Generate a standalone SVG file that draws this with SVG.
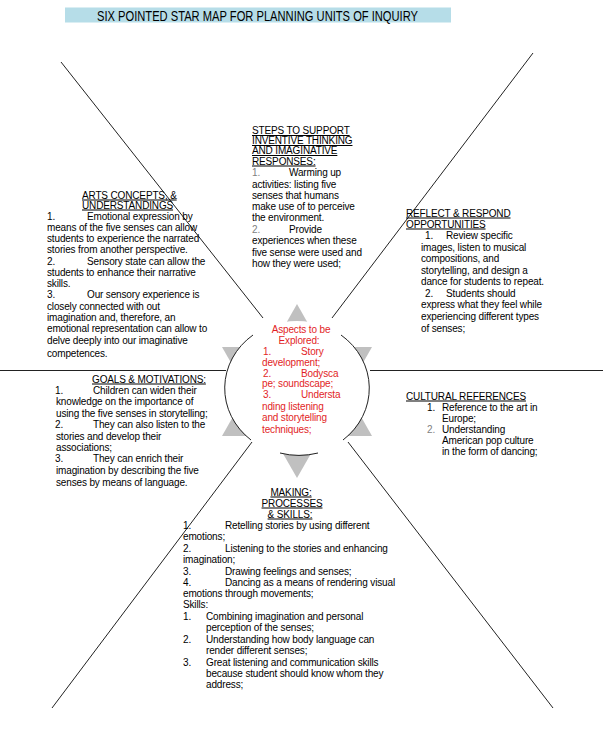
<svg xmlns="http://www.w3.org/2000/svg" width="603" height="729" viewBox="0 0 603 729">
<style>
text{font-family:"Liberation Sans",Arial,sans-serif;font-size:10px;fill:#000;letter-spacing:-0.15px}
.h{text-decoration:underline}
.g{fill:#7f7f7f}
.r{fill:#e21e26}
.ln{stroke:#222;stroke-width:1;fill:none}
.t{fill:#000;font-size:14px;letter-spacing:0}
</style>
<rect width="603" height="729" fill="#fff"/>
<g id="title">
<rect x="65" y="7.5" width="386" height="15" fill="#b6dde8"/>
<text class="t" x="97" y="20.5" textLength="321" lengthAdjust="spacingAndGlyphs">SIX POINTED STAR MAP FOR PLANNING UNITS OF INQUIRY</text>
</g>
<g id="connectors">
<line class="ln" x1="61" y1="62" x2="263" y2="318"/>
<line class="ln" x1="533" y1="53" x2="332" y2="318"/>
<line class="ln" x1="252" y1="442" x2="52" y2="708"/>
<line class="ln" x1="348" y1="442" x2="553" y2="708"/>
<line class="ln" x1="0" y1="370.5" x2="226" y2="370.5"/>
<line class="ln" x1="370" y1="370.5" x2="603" y2="370.5"/>
</g>
<g id="center">
<polygon points="297,304 222,436 372,436" fill="#c0c0c0"/>
<polygon points="297,478 222,347 372,347" fill="#c0c0c0"/>
<ellipse cx="297" cy="388" rx="72" ry="67" fill="#fff"/>
<path class="ln" d="M253,335 A72,67 0 0 0 251,440"/>
<path class="ln" d="M341,335 A72,67 0 0 1 343,440"/>
<path class="ln" d="M280,453 A72,67 0 0 0 318,453"/>
<text class="r" x="301" y="332.5" text-anchor="middle">Aspects to be</text>
<text class="r" x="299" y="343.5" text-anchor="middle">Explored:</text>
<text class="r" x="263" y="354.5">1.</text><text class="r" x="301" y="354.5">Story</text>
<text class="r" x="262" y="365.5">development;</text>
<text class="r" x="263" y="376.5">2.</text><text class="r" x="301" y="376.5">Bodysca</text>
<text class="r" x="262" y="387">pe; soundscape;</text>
<text class="r" x="263" y="398">3.</text><text class="r" x="301" y="398">Understa</text>
<text class="r" x="262" y="409.5">nding listening</text>
<text class="r" x="262" y="420.5">and storytelling</text>
<text class="r" x="262" y="432.5">techniques;</text>
</g>
<g id="steps">
<text class="h" x="252" y="134">STEPS TO SUPPORT</text>
<text class="h" x="252" y="144">INVENTIVE THINKING</text>
<text class="h" x="252" y="154">AND IMAGINATIVE</text>
<text class="h" x="252" y="164.5">RESPONSES:</text>
<text class="g" x="252" y="176">1.</text><text x="289" y="176">Warming up</text>
<text x="252" y="187.5">activities: listing five</text>
<text x="252" y="199">senses that humans</text>
<text x="252" y="210">make use of to perceive</text>
<text x="252" y="221">the environment.</text>
<text class="g" x="252" y="232.5">2.</text><text x="289" y="232.5">Provide</text>
<text x="252" y="244">experiences when these</text>
<text x="252" y="255.5">five sense were used and</text>
<text x="252" y="266.5">how they were used;</text>
</g>
<g id="arts">
<text class="h" x="82" y="198.5">ARTS CONCEPTS, &amp;</text>
<text class="h" x="82" y="208.5">UNDERSTANDINGS</text>
<text x="47" y="219.5">1.</text><text x="87" y="219.5">Emotional expression by</text>
<text x="47" y="230.5">means of the five senses can allow</text>
<text x="47" y="241.5">students to experience the narrated</text>
<text x="47" y="252.5">stories from another perspective.</text>
<text x="47" y="264.5">2.</text><text x="87" y="264.5">Sensory state can allow the</text>
<text x="47" y="275.5">students to enhance their narrative</text>
<text x="47" y="286.5">skills.</text>
<text x="47" y="297.5">3.</text><text x="87" y="297.5">Our sensory experience is</text>
<text x="47" y="309.5">closely connected with out</text>
<text x="47" y="320.5">imagination and, therefore, an</text>
<text x="47" y="331.5">emotional representation can allow to</text>
<text x="47" y="343.5">delve deeply into our imaginative</text>
<text x="47" y="356.5">competences.</text>
</g>
<g id="reflect">
<text class="h" x="406" y="216.5">REFLECT &amp; RESPOND</text>
<text class="h" x="406" y="227.5">OPPORTUNITIES</text>
<text x="425" y="239">1.</text><text x="446" y="239">Review specific</text>
<text x="421" y="250.5">images, listen to musical</text>
<text x="421" y="262">compositions, and</text>
<text x="421" y="273.5">storytelling, and design a</text>
<text x="421" y="285">dance for students to repeat.</text>
<text x="425" y="296.5">2.</text><text x="446" y="296.5">Students should</text>
<text x="421" y="308">express what they feel while</text>
<text x="421" y="319.5">experiencing different types</text>
<text x="421" y="331.5">of senses;</text>
</g>
<g id="goals">
<text class="h" x="92" y="382.5">GOALS &amp; MOTIVATIONS:</text>
<text x="55" y="393.5">1.</text><text x="93" y="393.5">Children can widen their</text>
<text x="56" y="404.5">knowledge on the importance of</text>
<text x="56" y="416.5">using the five senses in storytelling;</text>
<text x="55" y="427.5">2.</text><text x="93" y="427.5">They can also listen to the</text>
<text x="56" y="439.5">stories and develop their</text>
<text x="56" y="450.5">associations;</text>
<text x="55" y="461.5">3.</text><text x="93" y="461.5">They can enrich their</text>
<text x="56" y="473.5">imagination by describing the five</text>
<text x="56" y="485.5">senses by means of language.</text>
</g>
<g id="cultural">
<text class="h" x="406" y="399.5">CULTURAL REFERENCES</text>
<text x="427" y="410.5">1.</text><text x="442" y="410.5">Reference to the art in</text>
<text x="442" y="421.5">Europe;</text>
<text class="g" x="427" y="432.5">2.</text><text x="442" y="432.5">Understanding</text>
<text x="442" y="443.5">American pop culture</text>
<text x="442" y="454.5">in the form of dancing;</text>
</g>
<g id="making">
<text class="h" x="291" y="495.5" text-anchor="middle">MAKING:</text>
<text class="h" x="292" y="506.5" text-anchor="middle">PROCESSES</text>
<text class="h" x="290" y="517.5" text-anchor="middle">&amp; SKILLS:</text>
<text x="183" y="528.5">1.</text><text x="225" y="528.5">Retelling stories by using different</text>
<text x="183" y="539.5">emotions;</text>
<text x="183" y="551.5">2.</text><text x="225" y="551.5">Listening to the stories and enhancing</text>
<text x="183" y="562.5">imagination;</text>
<text x="183" y="574.5">3.</text><text x="225" y="574.5">Drawing feelings and senses;</text>
<text x="183" y="585.5">4.</text><text x="225" y="585.5">Dancing as a means of rendering visual</text>
<text x="183" y="596.5">emotions through movements;</text>
<text x="183" y="607.5">Skills:</text>
<text x="183" y="619.5">1.</text><text x="206" y="619.5">Combining imagination and personal</text>
<text x="206" y="630.5">perception of the senses;</text>
<text x="183" y="642.5">2.</text><text x="206" y="642.5">Understanding how body language can</text>
<text x="206" y="653.5">render different senses;</text>
<text x="183" y="665.5">3.</text><text x="206" y="665.5">Great listening and communication skills</text>
<text x="206" y="676.5">because student should know whom they</text>
<text x="206" y="687.5">address;</text>
</g>
</svg>
